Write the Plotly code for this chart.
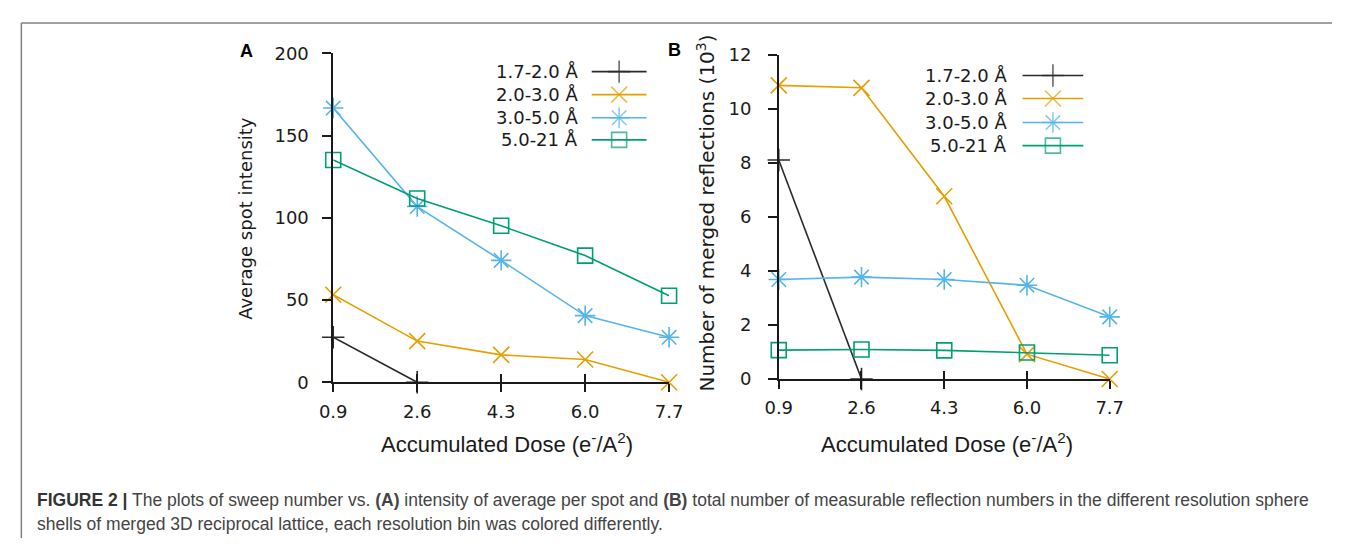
import plotly.graph_objects as go

W, H = 1346, 548

dose = [0.9, 2.6, 4.3, 6.0, 7.7]
dose_labels = ["0.9", "2.6", "4.3", "6.0", "7.7"]
series_names = ["1.7-2.0 Å", "2.0-3.0 Å", "3.0-5.0 Å", "5.0-21 Å"]

# Panel A: average spot intensity (1.7-2.0 Å only measured at the first two doses)
a_17_20 = [27.3, 0]
a_20_30 = [53.2, 25.0, 16.6, 13.8, 0]
a_30_50 = [166.7, 106.8, 74.1, 40.5, 27.3]
a_50_21 = [135.1, 111.7, 95.1, 77.0, 52.6]

# Panel B: number of merged reflections (10^3)
b_17_20 = [8.1, 0]
b_20_30 = [10.86, 10.77, 6.76, 0.92, 0]
b_30_50 = [3.68, 3.77, 3.68, 3.47, 2.3]
b_50_21 = [1.07, 1.09, 1.06, 0.98, 0.88]

a_ticks = [0, 50, 100, 150, 200]
b_ticks = [0, 2, 4, 6, 8, 10, 12]

colors = ["#2a2a2a", "#E69F00", "#56B4E9", "#009E73"]
symbols = ["cross-thin-open", "x-thin-open", "asterisk-open", "square-open"]
msizes = [16, 16, 17, 15]

AX = "#1a1a1a"
TICKFONT = dict(family="DejaVu Sans", size=18, color="#1a1a1a")


def px_x(v):
    return v / W


def px_y(v):
    return 1 - v / H


fig = go.Figure()

panel_a = [a_17_20, a_20_30, a_30_50, a_50_21]
panel_b = [b_17_20, b_20_30, b_30_50, b_50_21]

for i, ys in enumerate(panel_a):
    fig.add_trace(go.Scatter(
        x=dose[:len(ys)], y=ys, mode="lines+markers", xaxis="x", yaxis="y",
        line=dict(color=colors[i], width=1.6),
        marker=dict(symbol=symbols[i], size=msizes[i], color=colors[i],
                    line=dict(color=colors[i], width=1.6)),
        showlegend=False, cliponaxis=False))
for i, ys in enumerate(panel_b):
    fig.add_trace(go.Scatter(
        x=dose[:len(ys)], y=ys, mode="lines+markers", xaxis="x2", yaxis="y2",
        line=dict(color=colors[i], width=1.6),
        marker=dict(symbol=symbols[i], size=msizes[i], color=colors[i],
                    line=dict(color=colors[i], width=1.6)),
        showlegend=False, cliponaxis=False))

# invisible traces to carry the inside-tick overlay axes
fig.add_trace(go.Scatter(x=[dose[0]], y=[0], xaxis="x3", yaxis="y", mode="markers",
                         marker=dict(opacity=0), showlegend=False, hoverinfo="skip"))
fig.add_trace(go.Scatter(x=[dose[0]], y=[0], xaxis="x4", yaxis="y2", mode="markers",
                         marker=dict(opacity=0), showlegend=False, hoverinfo="skip"))

# legend samples (pixel-space overlay axes)
leg_a = dict(text_right=578, x0=590, x1=646, rows=[63, 87, 111, 134])
leg_b = dict(text_right=1016, x0=1030, x1=1092, rows=[67, 91, 116, 140])
annotations = []
for leg in (leg_a, leg_b):
    xm = (leg["x0"] + leg["x1"]) / 2
    for i, yr in enumerate(leg["rows"]):
        fig.add_trace(go.Scatter(
            x=[leg["x0"], xm, leg["x1"]], y=[yr, yr, yr], xaxis="x5", yaxis="y5",
            mode="lines+markers",
            line=dict(color=colors[i], width=1.6),
            marker=dict(symbol=symbols[i], size=[0, msizes[i], 0], color=colors[i],
                        line=dict(color=colors[i], width=1.6)),
            showlegend=False, hoverinfo="skip"))
        annotations.append(dict(
            x=px_x(leg["text_right"]), y=px_y(yr), xref="paper", yref="paper",
            xanchor="right", yanchor="middle", showarrow=False,
            text=series_names[i], font=TICKFONT))

# domains
xa_dom = [326 / W, 669 / W]
ya_dom = [px_y(386), px_y(44)]
xb_dom = [781 / W, 1119 / W]
yb_dom = [px_y(382.7), px_y(45.3)]

common_x = dict(range=[0.9, 7.7], tickmode="array", tickvals=dose, ticktext=dose_labels,
                showline=True, linecolor=AX, linewidth=1.6, ticks="outside",
                ticklen=8, tickwidth=1.6, tickcolor=AX, showgrid=False, zeroline=False,
                tickfont=TICKFONT, ticklabelstandoff=4)
inside_x = dict(range=[0.9, 7.7], tickmode="array", tickvals=dose, showline=False,
                ticks="inside", ticklen=8, tickwidth=1.6, tickcolor=AX,
                showticklabels=False, showgrid=False, zeroline=False)
common_y = dict(showline=True, linecolor=AX, linewidth=1.6, ticks="outside", ticklen=9,
                tickwidth=1.6, tickcolor=AX, showgrid=False, zeroline=False,
                tickfont=TICKFONT, tickmode="array")

fig.update_layout(
    width=W, height=H, margin=dict(l=0, r=0, t=0, b=0),
    paper_bgcolor="white", plot_bgcolor="rgba(0,0,0,0)",
    xaxis=dict(domain=xa_dom, anchor="y", **common_x),
    yaxis=dict(domain=ya_dom, anchor="x", range=[0, 200], tickvals=a_ticks,
               ticklabelstandoff=10, **common_y),
    xaxis2=dict(domain=xb_dom, anchor="y2", **common_x),
    yaxis2=dict(domain=yb_dom, anchor="x2", range=[0, 12], tickvals=b_ticks,
                ticklabelstandoff=13, **common_y),
    xaxis3=dict(overlaying="x", anchor="y", **inside_x),
    xaxis4=dict(overlaying="x2", anchor="y2", **inside_x),
    xaxis5=dict(domain=[0, 1], anchor="y5", range=[0, W], visible=False, fixedrange=True),
    yaxis5=dict(domain=[0, 1], anchor="x5", range=[H, 0], visible=False, fixedrange=True),
)

# axis titles
annotations.append(dict(x=px_x(237), y=px_y(216), xref="paper", yref="paper",
                        text="Average spot intensity", textangle=-90, showarrow=False,
                        xanchor="center", yanchor="middle", font=TICKFONT))
annotations.append(dict(x=px_x(707), y=px_y(398), xref="paper", yref="paper",
                        text="Number of merged reflections (10<sup>3</sup>)", textangle=-90,
                        showarrow=False, xanchor="center", yanchor="bottom",
                        font=dict(family="DejaVu Sans", size=20, color="#1a1a1a")))
XT = dict(family="Liberation Sans", size=22, color="#1a1a1a")
for cx in (503, 953):
    annotations.append(dict(x=px_x(cx), y=px_y(449), xref="paper", yref="paper",
                            text="Accumulated Dose (e<sup>-</sup>/A<sup>2</sup>)",
                            showarrow=False, xanchor="center", yanchor="middle", font=XT))

# panel letters
LF = dict(family="Liberation Sans", size=18, color="#000000")
annotations.append(dict(x=px_x(237.5), y=px_y(42), xref="paper", yref="paper", text="<b>A</b>",
                        showarrow=False, xanchor="center", yanchor="middle", font=LF))
annotations.append(dict(x=px_x(675), y=px_y(41), xref="paper", yref="paper", text="<b>B</b>",
                        showarrow=False, xanchor="center", yanchor="middle", font=LF))

# caption
CF = dict(family="Liberation Sans", size=17.5, color="#444444")
annotations.append(dict(
    x=px_x(21), y=px_y(508), xref="paper", yref="paper", xanchor="left", yanchor="middle",
    showarrow=False, font=CF, align="left",
    text="<b><span style='color:#333333'>FIGURE 2 |</span></b> The plots of sweep number vs. "
         "<b>(A)</b> intensity of average per spot and <b>(B)</b> total number of measurable "
         "reflection numbers in the different resolution sphere"))
annotations.append(dict(
    x=px_x(21), y=px_y(533), xref="paper", yref="paper", xanchor="left", yanchor="middle",
    showarrow=False, font=CF, align="left",
    text="shells of merged 3D reciprocal lattice, each resolution bin was colored differently."))

fig.update_layout(annotations=annotations)

# figure frame (top and left edges)
fig.add_shape(type="line", xref="paper", yref="paper", x0=px_x(7.5), x1=1,
              y0=px_y(12.5), y1=px_y(12.5), line=dict(color="#808080", width=1.5))
fig.add_shape(type="line", xref="paper", yref="paper", x0=px_x(7.5), x1=px_x(7.5),
              y0=px_y(12.5), y1=0, line=dict(color="#808080", width=1.5))

fig.write_html("out.html", config={"displayModeBar": False},
               post_script="document.body.style.margin='0';document.body.style.overflow='hidden';")
